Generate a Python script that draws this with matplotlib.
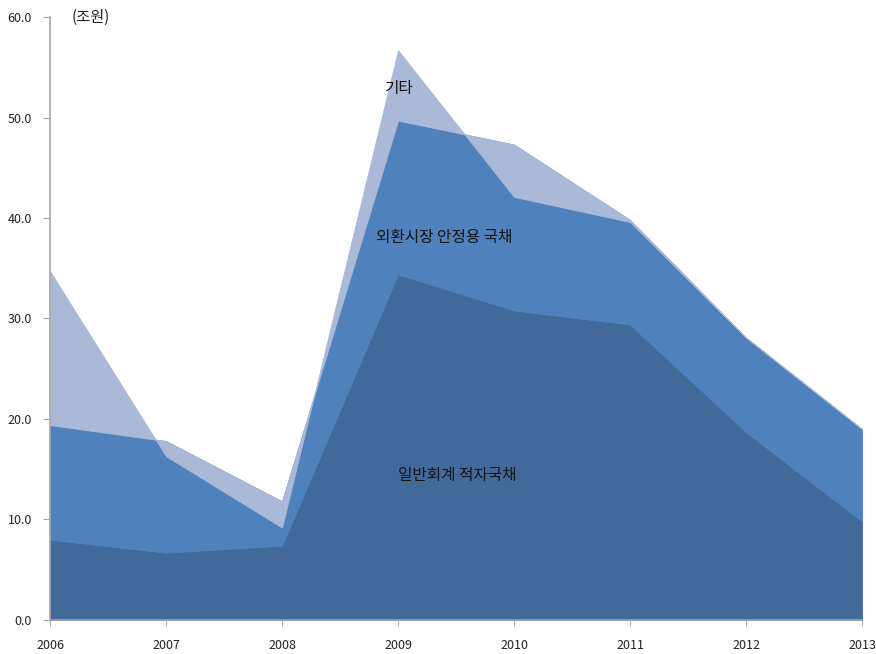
import matplotlib
matplotlib.use("Agg")
import matplotlib.pyplot as plt
import matplotlib.ticker as ticker

plt.rcParams['font.family'] = ['Noto Sans CJK KR', 'DejaVu Sans']

# 국가채무 증가 요인 (조원)
years = [2006, 2007, 2008, 2009, 2010, 2011, 2012, 2013]
general_deficit = [8.0, 6.7, 7.4, 34.4, 30.8, 29.4, 18.7, 9.8]    # 일반회계 적자국채
fx_stabilization = [11.4, 11.1, 4.4, 15.3, 16.5, 10.4, 9.4, 9.2]  # 외환시장 안정용 국채
others = [15.3, -1.5, -2.6, 7.0, -5.2, -0.2, 0.0, 0.0]            # 기타

colors = ["#416A9B", "#4F81BD", "#AAB9D7"]

fig = plt.figure(figsize=(8.76, 6.54), dpi=100)
ax = fig.add_axes([0.0571, 0.052, 0.927, 0.922])

layers = ax.stackplot(years, general_deficit, fx_stabilization, others,
                      colors=colors)
# edge in the fill colour hides the white seams between layers
for poly, c in zip(layers, colors):
    poly.set_edgecolor(c)
    poly.set_linewidth(0.6)

ax.set_xlim(2006, 2013)
ax.set_ylim(0, 60)
ax.set_xticks(years)
ax.set_yticks(range(0, 61, 10))
ax.yaxis.set_major_formatter(ticker.FuncFormatter(lambda v, p: f"{v:.1f}"))

for side in ["top", "right"]:
    ax.spines[side].set_visible(False)
for side in ["left", "bottom"]:
    ax.spines[side].set_color("#A6A6A6")
    ax.spines[side].set_linewidth(1.2)
    ax.spines[side].set_zorder(5)

ax.tick_params(axis="y", direction="out", length=5, color="#A6A6A6",
               labelsize=9, labelcolor="#222222", pad=8)
ax.tick_params(axis="x", direction="out", length=4, color="#A6A6A6",
               labelsize=9, labelcolor="#222222", pad=10)

ax.text(2006.35, 60, "(조원)", fontsize=11, color="#222222",
        ha="center", va="center")
ax.text(2009.0, 52.9, "기타", fontsize=11.3, color="#111111",
        ha="center", va="center")
ax.text(2009.4, 38.1, "외환시장 안정용 국채", fontsize=11.3, color="#111111",
        ha="center", va="center")
ax.text(2009.51, 14.4, "일반회계 적자국채", fontsize=11.3, color="#111111",
        ha="center", va="center")

fig.savefig("out.png", dpi=100)
